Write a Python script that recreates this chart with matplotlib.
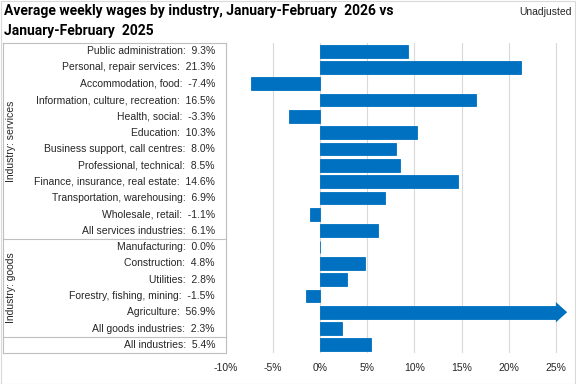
import numpy as np
import matplotlib
matplotlib.use("Agg")
import matplotlib.pyplot as plt
from matplotlib.transforms import blended_transform_factory
from matplotlib.lines import Line2D
from matplotlib.patches import Polygon, Rectangle

services = ["Public administration", "Personal, repair services", "Accommodation, food",
            "Information, culture, recreation", "Health, social", "Education",
            "Business support, call centres", "Professional, technical",
            "Finance, insurance, real estate", "Transportation, warehousing",
            "Wholesale, retail", "All services industries"]
services_pct = [9.3, 21.3, -7.4, 16.5, -3.3, 10.3, 8.0, 8.5, 14.6, 6.9, -1.1, 6.1]
goods = ["Manufacturing", "Construction", "Utilities", "Forestry, fishing, mining",
         "Agriculture", "All goods industries"]
goods_pct = [0.0, 4.8, 2.8, -1.5, 56.9, 2.3]
total = ["All industries"]
total_pct = [5.4]
xticks = [-10, -5, 0, 5, 10, 15, 20, 25]

BLUE = "#0070C0"
GRID = "#d9d9d9"
LINE = "#bfbfbf"
plt.rcParams["font.family"] = ["Liberation Sans", "DejaVu Sans"]

names = services + goods + total
vals = np.array(services_pct + goods_pct + total_pct)
y = np.arange(len(names))
xmax = xticks[-1]

fig = plt.figure(figsize=(5.76, 3.84), dpi=100)
fig.patches.append(Rectangle((0.001, 0.001), 0.998, 0.997, transform=fig.transFigure,
                             fill=False, ec="#d9d9d9", lw=0.8))
ax = fig.add_axes([226 / 576, 1 - 353 / 384, 344 / 576, 310 / 384])

# bars; values beyond the axis get clipped and drawn as an arrow
shown = np.clip(vals, None, xmax)
ax.barh(y, shown, height=0.78, color=BLUE, edgecolor=BLUE, lw=0.6, zorder=3)
for yi, v in zip(y, vals):
    if v > xmax:
        ax.add_patch(Polygon([[xmax, yi - 0.62], [xmax + 1.2, yi], [xmax, yi + 0.62]],
                             closed=True, color=BLUE, lw=0, zorder=3, clip_on=False))

ax.set_xlim(-10, 26.5)
ax.set_ylim(len(names) - 0.5, -0.5)
ax.set_xticks(xticks)
ax.set_xticklabels([f"{t}%" for t in xticks], fontsize=7.5, color="#262626")
ax.set_yticks([])
ax.tick_params(axis="x", length=0, pad=7)
for s in ax.spines.values():
    s.set_visible(False)
ax.grid(axis="x", color=GRID, lw=0.8, zorder=0)

# label table on the left
tr = blended_transform_factory(fig.transFigure, ax.transData)
for yi, n, v in zip(y, names, vals):
    fig.text(215 / 576, yi, f"{n}:  {v:.1f}%", transform=tr, ha="right", va="center",
             fontsize=7.5, color="#262626")

x0, x1 = 3 / 576, 226 / 576
n_s, n_g = len(services), len(goods)
for yl in [-0.5, n_s - 0.5, n_s + n_g - 0.5, len(names) - 0.5]:
    fig.add_artist(Line2D([x0, x1], [yl, yl], transform=tr, color=LINE, lw=0.8))
for xl in [x0, x1]:
    fig.add_artist(Line2D([xl, xl], [-0.5, len(names) - 0.5], transform=tr, color=LINE, lw=0.8))

fig.text(11 / 576, (n_s - 1) / 2, "Industry: services", transform=tr, rotation=90,
         ha="center", va="center", fontsize=7.5, color="#262626")
fig.text(11 / 576, n_s + (n_g - 1) / 2, "Industry: goods", transform=tr, rotation=90,
         ha="center", va="center", fontsize=7.5, color="#262626")

fig.text(4 / 576, 1 - 4 / 384, "Average weekly wages by industry, January-February  2026 vs\n"
         "January-February  2025", ha="left", va="top", fontsize=10, fontweight="bold",
         family=["Roboto", "DejaVu Sans"], linespacing=1.55)
fig.text(572 / 576, 1 - 7 / 384, "Unadjusted", ha="right", va="top", fontsize=7.5,
         color="#262626")

fig.savefig("out.png", dpi=100)
